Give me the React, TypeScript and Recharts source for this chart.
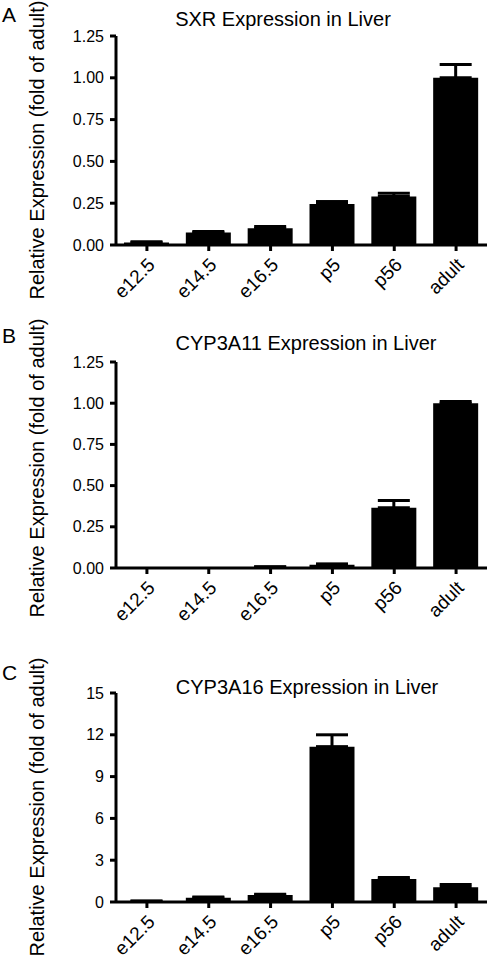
import React from "react";
import { Bar, BarChart, ErrorBar, XAxis, YAxis } from "recharts";

const categories = ["e12.5", "e14.5", "e16.5", "p5", "p56", "adult"];

const sxrValues = [0.015, 0.075, 0.1, 0.245, 0.29, 1.0];
const sxrErrors = [0.005, 0.005, 0.01, 0.015, 0.02, 0.08];

const cyp11Values = [0, 0, 0.006, 0.02, 0.365, 1.0];
const cyp11Errors = [0, 0, 0.002, 0.005, 0.045, 0.01];

const cyp16Values = [0.05, 0.3, 0.5, 11.15, 1.65, 1.05];
const cyp16Errors = [0.02, 0.05, 0.06, 0.85, 0.1, 0.2];

const ticksSmall = [0, 0.25, 0.5, 0.75, 1.0, 1.25];
const ticksLarge = [0, 3, 6, 9, 12, 15];

const FONT = "'Liberation Sans', Arial, Helvetica, sans-serif";
const axisStyle = { stroke: "#000", strokeWidth: 3 };

function XTick(props: any) {
  const { x, y, payload } = props;
  return (
    <g transform={`translate(${x + 9},${y + 13})`}>
      <text x={0} y={0} textAnchor="end" transform="rotate(-45)" fontSize={19} fill="#000" fontFamily={FONT}>
        {payload.value}
      </text>
    </g>
  );
}

function Panel({
  top,
  height,
  values,
  errors,
  ticks,
  decimals,
}: {
  top: number;
  height: number;
  values: number[];
  errors: number[];
  ticks: number[];
  decimals: number;
}) {
  const data = categories.map((name, i) => ({ name, value: values[i], err: [0, errors[i]] }));
  return (
    <div style={{ position: "absolute", left: 0, top }}>
      <BarChart width={492} height={height} data={data} margin={{ top: 10, right: 5, bottom: 0, left: 0 }}>
        <XAxis
          dataKey="name"
          height={70}
          interval={0}
          axisLine={axisStyle}
          tickLine={axisStyle}
          tickSize={6}
          tick={<XTick />}
        />
        <YAxis
          width={116}
          domain={[ticks[0], ticks[ticks.length - 1]]}
          ticks={ticks}
          allowDataOverflow
          axisLine={axisStyle}
          tickLine={axisStyle}
          tickSize={6}
          tickMargin={6}
          tickFormatter={(v: number) => v.toFixed(decimals)}
          tick={{ fill: "#000", fontSize: 16, fontFamily: FONT }}
        />
        <Bar dataKey="value" fill="#000" barSize={45} isAnimationActive={false}>
          <ErrorBar dataKey="err" direction="y" width={16} stroke="#000" strokeWidth={3} isAnimationActive={false} />
        </Bar>
      </BarChart>
    </div>
  );
}

const textStyle: React.CSSProperties = {
  position: "absolute",
  fontFamily: FONT,
  color: "#000",
  whiteSpace: "nowrap",
  lineHeight: 1,
};

function Labels({ letter, title, letterTop, titleX, titleY, yLabelY }: any) {
  return (
    <>
      <div style={{ ...textStyle, left: 2, top: letterTop, fontSize: 21 }}>{letter}</div>
      <div style={{ ...textStyle, left: titleX, top: titleY, fontSize: 20, transform: "translate(-50%, -50%)" }}>
        {title}
      </div>
      <div
        style={{
          ...textStyle,
          left: 37,
          top: yLabelY,
          fontSize: 20,
          transform: "translate(-50%, -50%) rotate(-90deg)",
        }}
      >
        Relative Expression (fold of adult)
      </div>
    </>
  );
}

export default function App() {
  return (
    <div style={{ position: "absolute", left: 0, top: 0, width: 492, height: 961, background: "#fff", overflow: "hidden" }}>
      <Panel top={26} height={289} values={sxrValues} errors={sxrErrors} ticks={ticksSmall} decimals={2} />
      <Panel top={352} height={286} values={cyp11Values} errors={cyp11Errors} ticks={ticksSmall} decimals={2} />
      <Panel top={683} height={289} values={cyp16Values} errors={cyp16Errors} ticks={ticksLarge} decimals={0} />
      <Labels letter="A" title="SXR Expression in Liver" letterTop={4} titleX={283} titleY={19} yLabelY={150} />
      <Labels letter="B" title="CYP3A11 Expression in Liver" letterTop={325} titleX={306} titleY={343} yLabelY={468} />
      <Labels letter="C" title="CYP3A16 Expression in Liver" letterTop={662} titleX={307} titleY={687} yLabelY={807} />
    </div>
  );
}
